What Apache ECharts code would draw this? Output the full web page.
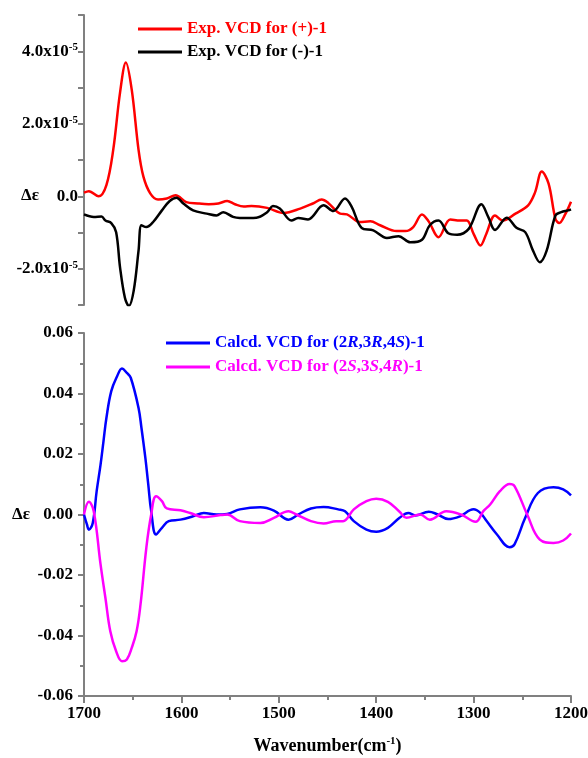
<!DOCTYPE html>
<html>
<head>
<meta charset="utf-8">
<script src="https://cdn.jsdelivr.net/npm/echarts@6/dist/echarts.min.js"></script>
<style>
  html, body { margin: 0; padding: 0; background: #fff; }
  #chart { width: 588px; height: 758px; }
</style>
</head>
<body>
<div id="chart"></div>
<script>
// experimental VCD, values in units of 1e-5
const expPlusX = [1700, 1695, 1685, 1677, 1670, 1663, 1657, 1651, 1644, 1639, 1632, 1624, 1615, 1606, 1595, 1583, 1572, 1562, 1553, 1545, 1536, 1528, 1512, 1495, 1478, 1465, 1456, 1449, 1437, 1430, 1417, 1406, 1396, 1379, 1370, 1362, 1353, 1346, 1336, 1324, 1314, 1307, 1300, 1293, 1287, 1278, 1270, 1257, 1244, 1237, 1230, 1223, 1216, 1212, 1206, 1200]
const expPlusY = [0.1, 0.14, 0.0, 0.31, 1.28, 2.86, 3.69, 2.94, 1.28, 0.54, 0.08, -0.09, -0.06, 0.03, -0.16, -0.2, -0.22, -0.2, -0.13, -0.22, -0.28, -0.27, -0.32, -0.46, -0.34, -0.2, -0.09, -0.19, -0.48, -0.5, -0.71, -0.69, -0.8, -0.96, -0.96, -0.85, -0.5, -0.7, -1.13, -0.64, -0.67, -0.67, -1.04, -1.36, -1.04, -0.53, -0.67, -0.48, -0.25, 0.1, 0.68, 0.35, -0.62, -0.74, -0.5, -0.15]

const expMinusX = [1700, 1690, 1682, 1678, 1672, 1667, 1663, 1658, 1654, 1649, 1644, 1641, 1636, 1629, 1620, 1612, 1605, 1598, 1588, 1574, 1564, 1557, 1547, 1540, 1523, 1512, 1506, 1499, 1487, 1480, 1470, 1454, 1444, 1432, 1425, 1415, 1403, 1389, 1377, 1365, 1353, 1345, 1336, 1326, 1317, 1305, 1292, 1285, 1278, 1266, 1256, 1247, 1239, 1232, 1225, 1216, 1210, 1203, 1200]
const expMinusY = [-0.5, -0.57, -0.56, -0.67, -0.74, -0.99, -1.96, -2.8, -3.03, -2.61, -1.5, -0.8, -0.85, -0.71, -0.39, -0.13, -0.04, -0.2, -0.39, -0.48, -0.53, -0.44, -0.57, -0.6, -0.59, -0.44, -0.27, -0.34, -0.67, -0.6, -0.64, -0.25, -0.41, -0.06, -0.3, -0.87, -0.94, -1.15, -1.1, -1.27, -1.2, -0.8, -0.67, -1.02, -1.06, -0.9, -0.22, -0.57, -0.93, -0.59, -0.87, -0.99, -1.5, -1.82, -1.5, -0.53, -0.44, -0.39, -0.36]

// calculated VCD
const calcRX = [1700, 1697, 1695, 1691, 1687, 1683, 1680, 1677, 1672, 1666, 1661, 1656, 1652, 1644, 1641, 1637, 1634, 1631, 1626, 1620, 1613, 1601, 1588, 1577, 1564, 1553, 1540, 1519, 1505, 1490, 1480, 1467, 1454, 1439, 1432, 1423, 1410, 1400, 1388, 1376, 1367, 1360, 1346, 1338, 1326, 1314, 1300, 1293, 1287, 1276, 1263, 1258, 1247, 1234, 1218, 1208, 1200]
const calcRY = [0, -0.0033, -0.005, -0.0028, 0.0077, 0.0165, 0.0242, 0.0319, 0.0408, 0.0457, 0.0483, 0.0468, 0.0452, 0.0352, 0.0286, 0.0187, 0.0099, 0.0011, -0.0066, -0.0044, -0.0022, -0.0017, -0.0006, 0.0005, 0, 0.0002, 0.0017, 0.0024, 0.0013, -0.0017, 0, 0.002, 0.0025, 0.0017, 0.0011, -0.0022, -0.005, -0.0057, -0.0044, -0.0011, 0.0005, -0.0003, 0.0009, 0.0002, -0.0015, -0.0006, 0.0017, 0.0005, -0.002, -0.0066, -0.0108, -0.0099, -0.0011, 0.0071, 0.009, 0.0083, 0.0063]

const calcSX = [1700, 1695, 1690, 1683, 1678, 1673, 1667, 1661, 1656, 1651, 1646, 1642, 1636, 1631, 1626, 1620, 1615, 1601, 1591, 1577, 1560, 1553, 1540, 1519, 1505, 1490, 1482, 1467, 1454, 1441, 1434, 1423, 1410, 1400, 1388, 1376, 1369, 1355, 1345, 1328, 1313, 1298, 1290, 1283, 1273, 1263, 1258, 1245, 1232, 1218, 1208, 1200]
const calcSY = [0, 0.0042, 0.0011, -0.0165, -0.0276, -0.0386, -0.0452, -0.0485, -0.0479, -0.0441, -0.0386, -0.0298, -0.011, 0, 0.006, 0.0044, 0.002, 0.0014, 0.0005, -0.0009, -0.0002, 0, -0.0022, -0.0028, -0.0011, 0.0011, 0, -0.0022, -0.003, -0.0022, -0.0022, 0.0017, 0.0044, 0.0052, 0.0042, 0.0009, -0.0011, 0, -0.0017, 0.0011, 0, -0.0024, 0.0011, 0.0033, 0.0077, 0.0101, 0.0094, 0, -0.0083, -0.0094, -0.0086, -0.0063]

const zip = (xs, ys) => xs.map((x, i) => [x, ys[i]])

const font = 'Liberation Serif'
const grey = '#808080'

const plainLabel = { fontFamily: font, fontWeight: 'bold', fontSize: 17, color: '#000', lineHeight: 19 }
const supLabel = { fontFamily: font, fontWeight: 'bold', fontSize: 11, color: '#000', lineHeight: 11, verticalAlign: 'top' }

const xAxisBase = {
    type: 'value',
    min: 1200,
    max: 1700,
    interval: 100,
    inverse: true,
    splitLine: { show: false }
}

const legendFormatter = name => {
    let key = name.indexOf('2R') >= 0 ? 'b' : 'm'
    return name.split(/([RS])/).map(t => {
        if (t === '') return ''
        return t === 'R' || t === 'S' ? '{' + key + 'i|' + t + '}' : '{' + key + '|' + t + '}'
    }).join('')
}

const legendBase = {
    orient: 'vertical',
    icon: 'rect',
    padding: 0,
    itemWidth: 44,
    itemHeight: 3
}

const option = {
    animation: false,
    grid: [
        { left: 84, width: 487, top: 15, height: 290, outerBoundsMode: 'none' },
        { left: 84, width: 487, top: 333, height: 363, outerBoundsMode: 'none' }
    ],
    legend: [
        Object.assign({}, legendBase, {
            left: 138,
            top: 19,
            itemGap: 3,
            textStyle: { fontFamily: font, fontWeight: 'bold', fontSize: 17, lineHeight: 20 },
            data: [
                { name: 'Exp. VCD for (+)-1', textStyle: { color: '#ff0000' } },
                { name: 'Exp. VCD for (-)-1', textStyle: { color: '#000' } }
            ]
        }),
        Object.assign({}, legendBase, {
            left: 166,
            top: 333,
            itemGap: 4,
            formatter: legendFormatter,
            textStyle: {
                fontFamily: font,
                fontWeight: 'bold',
                fontSize: 17,
                lineHeight: 20,
                rich: {
                    b: { fontFamily: font, fontWeight: 'bold', fontSize: 17, lineHeight: 20, color: '#0000ff' },
                    bi: { fontFamily: font, fontWeight: 'bold', fontStyle: 'italic', fontSize: 17, lineHeight: 20, color: '#0000ff' },
                    m: { fontFamily: font, fontWeight: 'bold', fontSize: 17, lineHeight: 20, color: '#ff00ff' },
                    mi: { fontFamily: font, fontWeight: 'bold', fontStyle: 'italic', fontSize: 17, lineHeight: 20, color: '#ff00ff' }
                }
            },
            data: ['Calcd. VCD for (2R,3R,4S)-1', 'Calcd. VCD for (2S,3S,4R)-1']
        })
    ],
    xAxis: [
        Object.assign({}, xAxisBase, { gridIndex: 0, show: false }),
        Object.assign({}, xAxisBase, {
            gridIndex: 1,
            name: '{n|Wavenumber(cm}{s|-1}{n|)}',
            nameLocation: 'middle',
            nameGap: 40,
            nameTextStyle: {
                rich: {
                    n: { fontFamily: font, fontWeight: 'bold', fontSize: 18, color: '#000', lineHeight: 20 },
                    s: { fontFamily: font, fontWeight: 'bold', fontSize: 11, color: '#000', lineHeight: 11, verticalAlign: 'top' }
                }
            },
            axisLine: { show: true, onZero: false, lineStyle: { color: grey, width: 2 } },
            axisTick: { show: true, inside: false, length: 7, lineStyle: { color: grey, width: 2 } },
            minorTick: { show: true, splitNumber: 2, length: 4, lineStyle: { color: grey, width: 2 } },
            axisLabel: {
                margin: 9,
                fontFamily: font,
                fontWeight: 'bold',
                fontSize: 17,
                color: '#000',
                formatter: v => String(v)
            }
        })
    ],
    yAxis: [
        {
            type: 'value',
            gridIndex: 0,
            min: -3,
            max: 5,
            interval: 1,
            // axis middle sits at 1e-5; an empty first line pushes the name down to the zero line
            name: '{g| }\n{t|Δε}',
            nameLocation: 'middle',
            nameRotate: 0,
            nameGap: 45,
            nameMoveOverlap: false,
            nameTextStyle: {
                rich: {
                    g: { fontSize: 10, lineHeight: 72 },
                    t: { fontFamily: font, fontWeight: 'bold', fontSize: 17, lineHeight: 20, color: '#000' }
                }
            },
            axisLine: { show: true, onZero: false, lineStyle: { color: grey, width: 2 } },
            axisTick: { show: true, length: 6, lineStyle: { color: grey, width: 2 } },
            splitLine: { show: false },
            axisLabel: {
                margin: 6,
                formatter: v => {
                    if (Math.abs(v) < 1e-9) return '{n|0.0}'
                    if (Math.round(v) % 2 !== 0) return ''
                    return '{n|' + v.toFixed(1) + 'x10}{s|-5}'
                },
                rich: { n: plainLabel, s: supLabel }
            }
        },
        {
            type: 'value',
            gridIndex: 1,
            min: -0.06,
            max: 0.06,
            interval: 0.02,
            name: 'Δε',
            nameLocation: 'middle',
            nameRotate: 0,
            nameGap: 54,
            nameMoveOverlap: false,
            nameTextStyle: { fontFamily: font, fontWeight: 'bold', fontSize: 17, color: '#000' },
            axisLine: { show: true, onZero: false, lineStyle: { color: grey, width: 2 } },
            axisTick: { show: true, length: 6, lineStyle: { color: grey, width: 2 } },
            minorTick: { show: true, splitNumber: 2, length: 4, lineStyle: { color: grey, width: 2 } },
            splitLine: { show: false },
            axisLabel: {
                margin: 11,
                fontFamily: font,
                fontWeight: 'bold',
                fontSize: 17,
                color: '#000',
                formatter: v => v.toFixed(2)
            }
        }
    ],
    series: [
        {
            name: 'Exp. VCD for (+)-1',
            type: 'line',
            xAxisIndex: 0,
            yAxisIndex: 0,
            symbol: 'none',
            smooth: 0.35,
            itemStyle: { color: '#ff0000' },
            lineStyle: { color: '#ff0000', width: 2.5 },
            data: zip(expPlusX, expPlusY)
        },
        {
            name: 'Exp. VCD for (-)-1',
            type: 'line',
            xAxisIndex: 0,
            yAxisIndex: 0,
            symbol: 'none',
            smooth: 0.35,
            itemStyle: { color: '#000' },
            lineStyle: { color: '#000', width: 2.5 },
            data: zip(expMinusX, expMinusY)
        },
        {
            name: 'Calcd. VCD for (2R,3R,4S)-1',
            type: 'line',
            xAxisIndex: 1,
            yAxisIndex: 1,
            symbol: 'none',
            smooth: 0.4,
            itemStyle: { color: '#0000ff' },
            lineStyle: { color: '#0000ff', width: 2.5 },
            data: zip(calcRX, calcRY)
        },
        {
            name: 'Calcd. VCD for (2S,3S,4R)-1',
            type: 'line',
            xAxisIndex: 1,
            yAxisIndex: 1,
            symbol: 'none',
            smooth: 0.4,
            itemStyle: { color: '#ff00ff' },
            lineStyle: { color: '#ff00ff', width: 2.5 },
            data: zip(calcSX, calcSY)
        }
    ]
}

const chart = echarts.init(document.getElementById('chart'))
chart.setOption(option)
</script>
</body>
</html>
